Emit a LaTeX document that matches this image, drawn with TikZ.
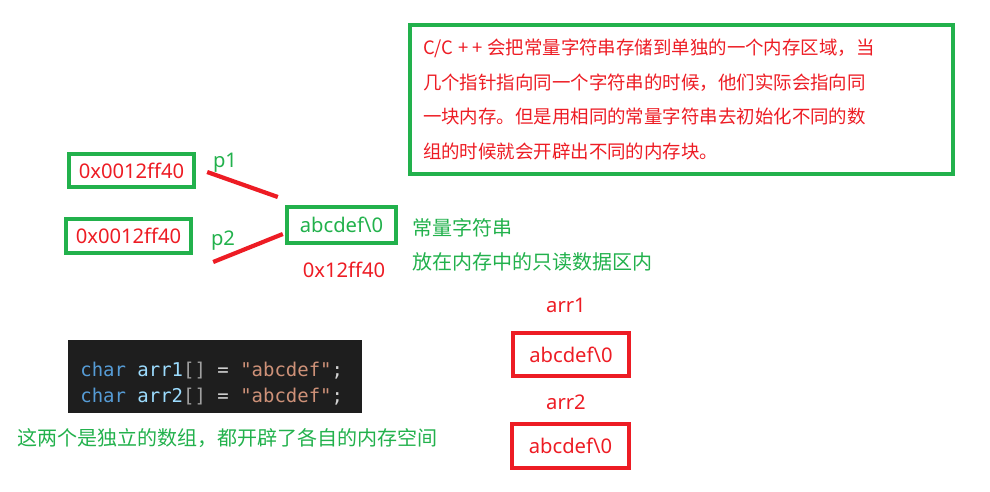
\documentclass[tikz,border=0pt]{standalone}
\usepackage{fontspec}
\setmainfont{Noto Sans CJK SC}
\newfontfamily\latinsf{Noto Sans}
\setmonofont{DejaVu Sans Mono}
\usetikzlibrary{calc}

\definecolor{paintgreen}{HTML}{22B14C}
\definecolor{paintred}{HTML}{ED1C24}
\definecolor{codebg}{HTML}{1E1E1E}
\definecolor{kwblue}{HTML}{569CD6}
\definecolor{varblue}{HTML}{9CDCFE}
\definecolor{brgray}{HTML}{A0A0A0}
\definecolor{opwhite}{HTML}{D4D4D4}
\definecolor{strorange}{HTML}{CE9178}

\tikzset{
  greenbox/.style={draw=paintgreen, line width=2.5pt, inner sep=0pt},
  redbox/.style={draw=paintred, line width=2.5pt, inner sep=0pt},
  ptrline/.style={draw=paintred, line width=2.4pt},
  latin/.style={font=\latinsf\fontsize{11.5}{13}\selectfont},
  cjktext/.style={font=\fontsize{11.4}{13}\selectfont},
  codeline/.style={anchor=west, inner sep=0pt, font=\ttfamily\fontsize{10.8}{12}\selectfont}
}

\begin{document}
\begin{tikzpicture}[x=0.02cm, y=-0.02cm]
  \useasboundingbox (0,0) rectangle (990,491);

  % the note box at the top right
  \node[greenbox, minimum width=10.86cm, minimum height=2.98cm,
        text width=10.34cm, align=left, inner xsep=4pt, text=paintred,
        font=\fontsize{10.5}{19.8}\selectfont] (note) at (681.5,99.5)
    {C/C\kern2.5pt+\kern2.5pt+\kern2.5pt会把常量字符串存储到单独的一个内存区域，当\\
     几个指针指向同一个字符串的时候，他们实际会指向同\\
     一块内存。但是用相同的常量字符串去初始化不同的数\\
     组的时候就会开辟出不同的内存块。};

  % two pointers and the constant string
  \node[greenbox, latin, text=paintred, minimum width=2.5cm, minimum height=0.66cm] (ptr1) at (131.5,170.5) {0x0012ff40};
  \node[greenbox, latin, text=paintred, minimum width=2.5cm, minimum height=0.68cm] (ptr2) at (128.5,236) {0x0012ff40};
  \node[greenbox, latin, text=paintgreen, minimum width=2.18cm, minimum height=0.72cm] (str) at (341.5,225) {abcdef\textbackslash 0};

  \node[latin, text=paintgreen] (p1) at (225,163) {p1};
  \node[latin, text=paintgreen] (p2) at (223,241) {p2};
  \node[latin, text=paintred] (addr) at (344,270) {0x12ff40};

  \coordinate (p1s) at ($(ptr1.east)+(11,1.5)$);
  \coordinate (p1e) at ($(str.west)+(-7,-28)$);
  \coordinate (p2s) at ($(ptr2.east)+(20,26)$);
  \coordinate (p2e) at ($(str.west)+(-2,9)$);
  \draw[ptrline] (p1s) -- (p1e);
  \draw[ptrline] (p2s) -- (p2e);

  \node[cjktext, text=paintgreen, anchor=west, inner sep=0pt] (rodesc1) at (412,228) {常量字符串};
  \node[cjktext, text=paintgreen, anchor=west, inner sep=0pt] (rodesc2) at (412,262) {放在内存中的只读数据区内};

  % the two arrays
  \node[latin, text=paintred] (arr1) at (566,305) {arr1};
  \node[redbox, latin, text=paintred, minimum width=2.32cm, minimum height=0.86cm] (arrbox1) at (571,354.5) {abcdef\textbackslash 0};
  \node[latin, text=paintred] (arr2) at (566,402) {arr2};
  \node[redbox, latin, text=paintred, minimum width=2.34cm, minimum height=0.88cm] (arrbox2) at (570.5,446) {abcdef\textbackslash 0};

  % code snippet
  \fill[codebg] (68,340) rectangle (362,413);
  \node[codeline] (code1) at (80,371) {\textcolor{kwblue}{char} \textcolor{varblue}{arr1}\textcolor{brgray}{[]} \textcolor{opwhite}{=} \textcolor{strorange}{"abcdef"}\textcolor{opwhite}{;}};
  \node[codeline] (code2) at (80,397) {\textcolor{kwblue}{char} \textcolor{varblue}{arr2}\textcolor{brgray}{[]} \textcolor{opwhite}{=} \textcolor{strorange}{"abcdef"}\textcolor{opwhite}{;}};

  \node[cjktext, text=paintgreen, anchor=west, inner sep=0pt] (arrdesc) at (17,438) {这两个是独立的数组，都开辟了各自的内存空间};
\end{tikzpicture}
\end{document}
